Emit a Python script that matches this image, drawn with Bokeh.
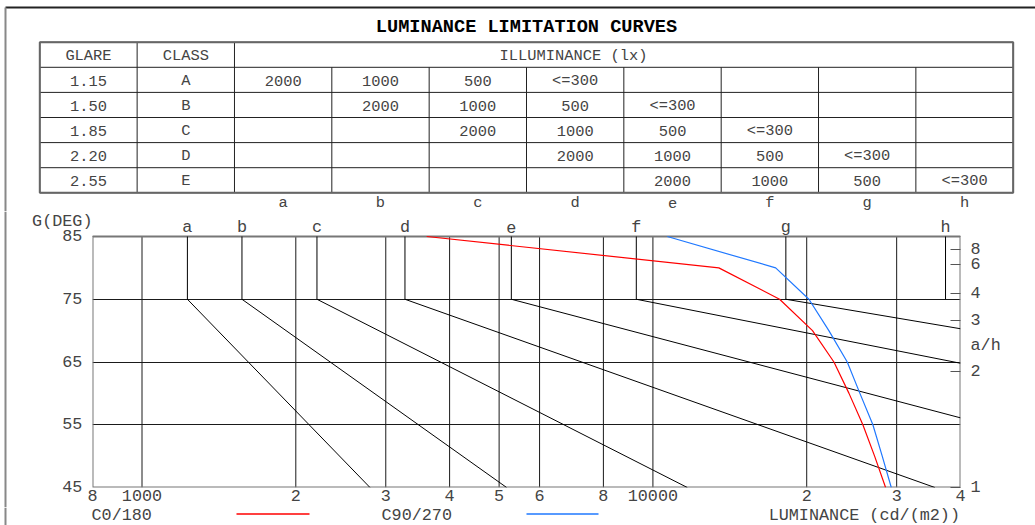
import math
from bokeh.plotting import figure
from bokeh.models import Range1d, FixedTicker, LinearAxis
from bokeh.layouts import column, row
from bokeh.embed import file_html
from bokeh.resources import INLINE
from bokeh.core.properties import value

FONT = "Liberation Mono"
TXT = "#444444"

# ---------------- data ----------------
title_text = "LUMINANCE LIMITATION CURVES"
header = ["GLARE", "CLASS", "ILLUMINANCE (lx)"]
glare = ["1.15", "1.50", "1.85", "2.20", "2.55"]
glare_class = ["A", "B", "C", "D", "E"]
illum_levels = ["2000", "1000", "500", "<=300"]
curve_letters = ["a", "b", "c", "d", "e", "f", "g", "h"]

# limitation curves: vertical part (85..75 deg) and end point of the sloped part
curve_L_vert = [1227, 1569, 2200, 3271, 5283, 9279, 18206, 37390]
curve_L_end = [2794, 5172, 11677, 35637, 40000, 40000, 40000, 37390]
curve_G_end = [45, 45, 45, 45, 56.1, 64.8, 70.3, 75]

gamma = [85, 80, 75, 70, 65, 60, 55, 50, 45]
lum_c0_180 = [3608, 13460, 17700, 20530, 22610, 24200, 25760, 27160, 28540]
lum_c90_270 = [10670, 17390, 20200, 22100, 24010, 25420, 26950, 28110, 29280]

x_ticks = [800, 1000, 2000, 3000, 4000, 5000, 6000, 8000, 10000, 20000, 30000, 40000]
x_tick_labels = ["8", "1000", "2", "3", "4", "5", "6", "8", "10000", "2", "3", "4"]
g_ticks = [45, 55, 65, 75, 85]
ah_ticks = [1, 2, 3, 4, 6, 8]
legend_names = ["C0/180", "C90/270"]
x_title = "LUMINANCE (cd/(m2))"
y_title = "G(DEG)"
ah_title = "a/h"

# ---------------- layout constants ----------------
W, H = 1035, 525
HA, HC = 211, 18
HB = H - HA - HC
WL = 8                      # narrow strip carrying the page frame's left edge
X_MIN, X_MAX = 800, 40000
G_MIN, G_MAX = 45, 85
PX_PER_DEG = 251 / 40.0
Y_TOP = G_MAX + (236 - HA) / PX_PER_DEG        # frame reaches up to the figure top
GDEG_POS = G_MAX + (236 - 218.6) / PX_PER_DEG   # height of the "G(DEG)" caption
AH_POS = G_MAX - (344.7 - 236) / PX_PER_DEG     # height of the "a/h" caption
RED, BLUE = "#ff0000", "#1f78ff"
NB = "\u00a0"
SH = 4.5  # baseline correction of text glyphs


def pix_fig(width, height, x1, y0, y1):
    f = figure(width=width, height=height, x_range=Range1d(0, x1), y_range=Range1d(y1, y0),
               x_axis_location=None, y_axis_location=None, toolbar_location=None,
               output_backend="svg", title=None, min_border=0, outline_line_color=None)
    f.grid.visible = False
    return f


# ---------------- table figure (page pixel coordinates) ----------------
pA = pix_fig(W, HA, W, 0, HA)

tx0, cw, ty0, rh = 39.3, 97.34, 41.7, 25.1
col_edges = [tx0 + i * cw for i in range(11)]
row_edges = [ty0 + j * rh for j in range(7)]
col_mid = [(col_edges[i] + col_edges[i + 1]) / 2 for i in range(10)]

pA.segment(x0=[5], y0=[7], x1=[W], y1=[7], line_color="#222222", line_width=2)
pA.segment(x0=[5], y0=[7], x1=[5], y1=[HA], line_color="#888888", line_width=2)

pA.segment(x0=[col_edges[0]] * 7, y0=row_edges, x1=[col_edges[10]] * 7, y1=row_edges,
           line_color="#222222", line_width=1)
vx, vy0, vy1 = [], [], []
for i, xe in enumerate(col_edges):
    vx.append(xe)
    vy0.append(row_edges[0] if i in (0, 1, 2, 10) else row_edges[1])
    vy1.append(row_edges[6])
pA.segment(x0=vx, y0=vy0, x1=vx, y1=vy1, line_color="#222222", line_width=1)
pA.quad(left=[col_edges[0]], right=[col_edges[10]], top=[row_edges[0]], bottom=[row_edges[6]],
        fill_color=None, line_color="#666666", line_width=2)

pA.text(x=[526], y=[31 - SH], text=[title_text], text_font=value(FONT), text_font_size="18.6px",
        text_font_style="bold", text_color="black", text_align="center", text_baseline="alphabetic")

tx, ty, tt = [], [], []
hb = row_edges[1] - 6.7 - SH
tx += [col_mid[0], col_mid[1], 573]
ty += [hb, hb, hb]
tt += header
for j in range(5):
    b = row_edges[j + 2] - 7 - SH
    tx += [col_mid[0], col_mid[1]]
    ty += [b, b]
    tt += [glare[j], glare_class[j]]
    for k, lev in enumerate(illum_levels):
        tx.append(col_mid[2 + j + k])
        ty.append(b)
        tt.append(lev)
for i, letter in enumerate(curve_letters):
    tx.append(col_mid[2 + i])
    ty.append(206.5 - SH)
    tt.append(letter)
pA.text(x=tx, y=ty, text=tt, text_font=value(FONT), text_font_size="15.4px",
        text_color=TXT, text_align="center", text_baseline="alphabetic")

# ---------------- left frame strip ----------------
pL = pix_fig(WL, HB, WL, 0, HB)
pL.segment(x0=[5], y0=[0], x1=[5], y1=[HB], line_color="#888888", line_width=2)

# ---------------- chart figure ----------------
pB = figure(width=W - WL, height=HB, x_axis_type="log", x_range=Range1d(X_MIN, X_MAX),
            y_range=Range1d(G_MIN, Y_TOP), toolbar_location=None, output_backend="svg", title=None,
            min_border_left=92 - WL, min_border_right=W - 960, min_border_top=0,
            min_border_bottom=20, outline_line_color=None)

AX_SIZE = "16.8px"
xa = pB.xaxis[0]
xa.ticker = FixedTicker(ticks=x_ticks)
xa.major_label_overrides = {t: l for t, l in zip(x_ticks, x_tick_labels)}
xa.major_label_standoff = 2

ya = pB.yaxis[0]
ya.ticker = FixedTicker(ticks=g_ticks + [GDEG_POS])
y_over = {g: f"{g}{NB}" for g in g_ticks}
y_over[GDEG_POS] = y_title
ya.major_label_overrides = y_over
ya.major_label_standoff = 0

ah_gamma = [math.degrees(math.atan(v)) for v in ah_ticks]
ra = LinearAxis(ticker=FixedTicker(ticks=ah_gamma + [AH_POS], minor_ticks=ah_gamma))
r_over = {g: str(v) for g, v in zip(ah_gamma, ah_ticks)}
r_over[AH_POS] = ah_title
ra.major_label_overrides = r_over
ra.major_label_standoff = 10
pB.add_layout(ra, "right")

for ax in (xa, ya, ra):
    ax.axis_line_color = None
    ax.major_tick_out = 0
    ax.major_tick_in = 0
    ax.minor_tick_out = 0
    ax.minor_tick_in = 0
    ax.major_label_text_font = FONT
    ax.major_label_text_font_size = AX_SIZE
    ax.major_label_text_color = TXT
ra.minor_tick_in = 10
ra.minor_tick_line_color = "#555555"
ra.minor_tick_line_width = 1

pB.xgrid.visible = False
pB.ygrid.ticker = FixedTicker(ticks=g_ticks)
pB.ygrid.grid_line_color = "#1a1a1a"
pB.ygrid.grid_line_width = 1

inner_x = x_ticks[1:-1]
pB.segment(x0=inner_x, y0=[G_MIN] * len(inner_x), x1=inner_x, y1=[G_MAX] * len(inner_x),
           line_color="#1a1a1a", line_width=1)
pB.quad(left=[X_MIN], right=[X_MAX], bottom=[G_MIN], top=[G_MAX], fill_color=None,
        line_color="#777777", line_width=2)

xs = [[lv, lv, le] for lv, le in zip(curve_L_vert, curve_L_end)]
ys = [[G_MAX, 75, ge] for ge in curve_G_end]
pB.multi_line(xs=xs, ys=ys, line_color="black", line_width=1)

pB.line(lum_c0_180, gamma, line_color=RED, line_width=1.2)
pB.line(lum_c90_270, gamma, line_color=BLUE, line_width=1.2)

pB.text(x=curve_L_vert, y=[G_MAX] * len(curve_L_vert), text=curve_letters, y_offset=-5 - SH,
        text_font=value(FONT), text_font_size=AX_SIZE, text_color=TXT,
        text_align="center", text_baseline="alphabetic")

# ---------------- legend / caption strip ----------------
pC = pix_fig(W, HC, W, H - HC, H)
pC.segment(x0=[5], y0=[H - HC], x1=[5], y1=[H], line_color="#888888", line_width=2)
LB = 518 - SH + 1
pC.text(x=[91, 381], y=[LB, LB], text=legend_names, text_font=value(FONT),
        text_font_size=AX_SIZE, text_color=TXT, text_align="left", text_baseline="alphabetic")
pC.text(x=[959.5], y=[LB], text=[x_title], text_font=value(FONT), text_font_size=AX_SIZE,
        text_color=TXT, text_align="right", text_baseline="alphabetic")
pC.line(x=[236, 309], y=[513.5, 513.5], line_color=RED, line_width=1.5)
pC.line(x=[526, 598], y=[513.5, 513.5], line_color=BLUE, line_width=1.5)

for f in (pA, pL, pB, pC):
    if "frame_align" in f.properties():
        f.frame_align = False

layout = column(pA, row(pL, pB), pC)
open("out.html", "w").write(file_html(layout, INLINE))
